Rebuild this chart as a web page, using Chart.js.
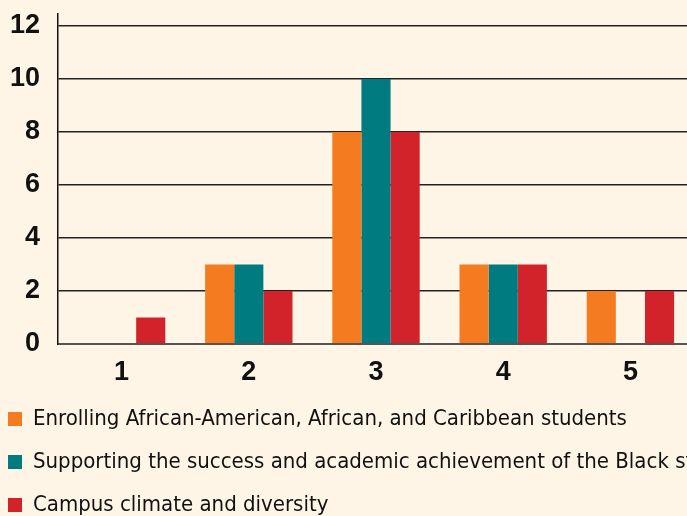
<!DOCTYPE html>
<html>
<head>
<meta charset="utf-8">
<script src="https://cdn.jsdelivr.net/npm/chart.js@4.4.1/dist/chart.umd.min.js"></script>
<style>
  html, body { margin: 0; padding: 0; background: #fef5e6; overflow: hidden; }
  body { width: 687px; height: 516px; position: relative; }
  #wrap { position: absolute; left: 0; top: 0; width: 780px; height: 526px; }
</style>
</head>
<body>
<div id="wrap"><canvas id="chart"></canvas></div>
<script>
const categories = ["1", "2", "3", "4", "5"];
const enrolling = [0, 3, 8, 3, 2];
const supporting = [0, 3, 10, 3, 0];
const climate = [1, 2, 8, 3, 2];
const seriesNames = [
  "Enrolling African-American, African, and Caribbean students",
  "Supporting the success and academic achievement of the Black students",
  "Campus climate and diversity"
];
const seriesColors = ["#f47b20", "#007b80", "#d2232a"];
const yTicks = [0, 2, 4, 6, 8, 10, 12];

const tickFont = { family: "'Liberation Sans', Arial, sans-serif", size: 27, weight: "bold" };

new Chart(document.getElementById("chart"), {
  type: "bar",
  data: {
    labels: categories,
    datasets: [enrolling, supporting, climate].map((d, i) => ({
      label: seriesNames[i],
      data: d,
      backgroundColor: seriesColors[i],
      borderWidth: 0,
      categoryPercentage: 0.687,
      barPercentage: 1
    }))
  },
  options: {
    responsive: true,
    maintainAspectRatio: false,
    animation: false,
    layout: { padding: { left: -13, right: 86, top: 14, bottom: 0 } },
    scales: {
      x: {
        afterFit: scale => { scale.height = 43; },
        grid: { display: false, drawTicks: false },
        border: { color: "#555", width: 2 },
        ticks: { color: "#111", font: tickFont, padding: 12 }
      },
      y: {
        min: 0,
        max: 12.45,
        afterBuildTicks: scale => { scale.ticks = yTicks.map(v => ({ value: v })); },
        afterFit: scale => {
          scale.width = 71;
          scale.paddingTop = 0;
          scale.paddingBottom = 0;
        },
        grid: {
          drawTicks: false,
          color: ctx => ctx.tick && ctx.tick.value === 0 ? "#555" : "#222",
          lineWidth: ctx => ctx.tick && ctx.tick.value === 0 ? 2 : 1.5
        },
        border: { color: "#111", width: 1.5 },
        ticks: { color: "#111", font: tickFont, padding: 18 }
      }
    },
    plugins: {
      tooltip: { enabled: false },
      legend: {
        position: "bottom",
        align: "start",
        labels: {
          boxWidth: 14,
          boxHeight: 14,
          padding: 21,
          color: "#111",
          font: { family: "'DejaVu Sans Condensed', sans-serif", size: 22 }
        }
      }
    }
  }
});
</script>
</body>
</html>
